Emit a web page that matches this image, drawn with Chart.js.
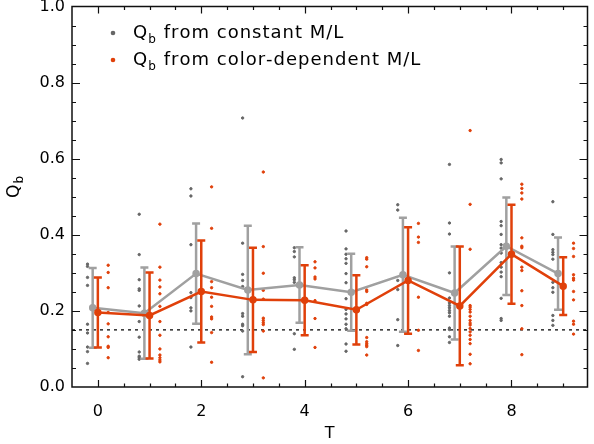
<!DOCTYPE html>
<html><head><meta charset="utf-8">
<script src="https://cdn.jsdelivr.net/npm/chart.js@4.4.1/dist/chart.umd.min.js"></script>
<style>html,body{margin:0;padding:0;background:#fff;}#wrap{width:594px;height:444px;position:relative;}</style>
</head><body><div id="wrap"><canvas id="c" width="594" height="444"></canvas></div>
<script>
// ---- data ----
const T = [0, 1, 2, 3, 4, 5, 6, 7, 8, 9];
const xTickLabels = [0, 2, 4, 6, 8];
const yTickLabels = [0.0, 0.2, 0.4, 0.6, 0.8, 1.0];
const threshold = 0.15;

const grayMean = [0.208, 0.194, 0.298, 0.255, 0.268, 0.249, 0.295, 0.247, 0.370, 0.298];
const grayErr  = [0.105, 0.120, 0.132, 0.169, 0.099, 0.101, 0.150, 0.122, 0.128, 0.095];
const orangeMean = [0.196, 0.188, 0.251, 0.229, 0.228, 0.203, 0.280, 0.213, 0.349, 0.265];
const orangeErr  = [0.092, 0.113, 0.134, 0.137, 0.092, 0.091, 0.140, 0.156, 0.130, 0.076];

const grayPoints = [
  [0.323, 0.317, 0.288, 0.267, 0.165, 0.142, 0.105, 0.093, 0.062],
  [0.454, 0.348, 0.282, 0.258, 0.254, 0.213, 0.172, 0.131, 0.092, 0.081, 0.077, 0.073],
  [0.521, 0.502, 0.374, 0.248, 0.235, 0.208, 0.200, 0.105],
  [0.707, 0.378, 0.296, 0.280, 0.264, 0.193, 0.186, 0.165, 0.161, 0.147, 0.027],
  [0.366, 0.356, 0.342, 0.287, 0.282, 0.275, 0.140, 0.099],
  [0.410, 0.363, 0.349, 0.337, 0.325, 0.298, 0.274, 0.232, 0.204, 0.192, 0.179, 0.165, 0.153, 0.113, 0.094],
  [0.479, 0.465, 0.280, 0.256, 0.177, 0.109],
  [0.585, 0.431, 0.402, 0.300, 0.234, 0.221, 0.214, 0.208, 0.201, 0.195, 0.186, 0.155, 0.151, 0.132, 0.117],
  [0.598, 0.589, 0.547, 0.435, 0.424, 0.401, 0.374, 0.365, 0.352, 0.327, 0.315, 0.302, 0.290, 0.233, 0.180, 0.175],
  [0.487, 0.401, 0.361, 0.354, 0.348, 0.336, 0.275, 0.261, 0.249, 0.188, 0.175, 0.162]
];
const orangePoints = [
  [0.320, 0.301, 0.261, 0.196, 0.166, 0.132, 0.107, 0.104, 0.077],
  [0.428, 0.315, 0.281, 0.263, 0.245, 0.212, 0.172, 0.136, 0.100, 0.084, 0.077, 0.071, 0.066],
  [0.526, 0.417, 0.277, 0.261, 0.236, 0.212, 0.184, 0.179, 0.143, 0.065],
  [0.565, 0.369, 0.299, 0.254, 0.231, 0.181, 0.175, 0.169, 0.164, 0.147, 0.024],
  [0.329, 0.313, 0.289, 0.284, 0.227, 0.180, 0.104],
  [0.340, 0.336, 0.316, 0.255, 0.251, 0.220, 0.217, 0.130, 0.119, 0.114, 0.110, 0.106, 0.084],
  [0.430, 0.394, 0.380, 0.236, 0.149, 0.096],
  [0.674, 0.480, 0.362, 0.214, 0.210, 0.204, 0.197, 0.186, 0.175, 0.168, 0.163, 0.154, 0.145, 0.136, 0.125, 0.114, 0.086, 0.061],
  [0.533, 0.522, 0.510, 0.494, 0.392, 0.370, 0.366, 0.315, 0.306, 0.253, 0.214, 0.153, 0.085],
  [0.378, 0.364, 0.343, 0.295, 0.286, 0.281, 0.251, 0.229, 0.173, 0.165, 0.139]
];

// ---- styles ----
const GRAY_DOT = '#666666', GRAY_LINE = '#a0a0a0', ORANGE = '#e0400a', AXIS = '#101010';
const FONT = '"DejaVu Sans", sans-serif';

const grayScatter = [], orangeScatter = [];
grayPoints.forEach((arr, i) => arr.forEach(v => grayScatter.push({x: T[i] - 0.2, y: v})));
orangePoints.forEach((arr, i) => arr.forEach(v => orangeScatter.push({x: T[i] + 0.2, y: v})));
const grayLine = T.map((t, i) => ({x: t - 0.1, y: grayMean[i]}));
const orangeLine = T.map((t, i) => ({x: t, y: orangeMean[i]}));

const errorBars = {
  id: 'errorBars',
  beforeDatasetDraw(chart, args) {
    const ds = chart.data.datasets[args.index];
    if (!ds.errors) return;
    const xs = chart.scales.x, ys = chart.scales.y, ctx = chart.ctx;
    ctx.save();
    ctx.strokeStyle = ds.borderColor;
    ds.data.forEach((p, i) => {
      const px = xs.getPixelForValue(p.x);
      const top = ys.getPixelForValue(p.y + ds.errors[i]);
      const bot = ys.getPixelForValue(p.y - ds.errors[i]);
      ctx.lineWidth = 2.5;
      ctx.beginPath(); ctx.moveTo(px, top); ctx.lineTo(px, bot); ctx.stroke();
      ctx.beginPath();
      ctx.moveTo(px - 4, top); ctx.lineTo(px + 4, top);
      ctx.moveTo(px - 4, bot); ctx.lineTo(px + 4, bot);
      ctx.stroke();
    });
    ctx.restore();
  }
};

// frame and inward ticks, drawn last so nothing covers them
const frameTicks = {
  id: 'frameTicks',
  afterDraw(chart) {
    const a = chart.chartArea, ctx = chart.ctx;
    const xs = chart.scales.x, ys = chart.scales.y;
    ctx.save();
    ctx.setLineDash([]);
    ctx.globalAlpha = 1;
    ctx.globalCompositeOperation = 'source-over';
    ctx.strokeStyle = AXIS;
    ctx.lineWidth = 1.5;
    ctx.beginPath();
    ctx.moveTo(a.left, a.top); ctx.lineTo(a.right, a.top);
    ctx.lineTo(a.right, a.bottom); ctx.lineTo(a.left, a.bottom);
    ctx.closePath();
    ctx.stroke();
    ctx.lineWidth = 1.2;
    ctx.beginPath();
    for (let k = -1; k <= 19; k++) {
      const v = k * 0.5;
      if (v <= xs.min + 0.01 || v >= xs.max - 0.01) continue;
      const px = Math.round(xs.getPixelForValue(v)) + 0.5;
      const len = (k % 4 === 0) ? 7 : 3.5;
      ctx.moveTo(px, a.bottom); ctx.lineTo(px, a.bottom - len);
      ctx.moveTo(px, a.top); ctx.lineTo(px, a.top + len);
    }
    for (let k = 1; k < 20; k++) {
      const py = Math.round(ys.getPixelForValue(k * 0.05)) + 0.5;
      const len = (k % 4 === 0) ? 8 : 4;
      ctx.moveTo(a.left, py); ctx.lineTo(a.left + len, py);
      ctx.moveTo(a.right, py); ctx.lineTo(a.right - len, py);
    }
    ctx.stroke();
    ctx.restore();
  }
};

function drawQb(ctx, x, y, size) {
  ctx.font = size + 'px ' + FONT;
  ctx.fillText('Q', x, y);
  const w = ctx.measureText('Q').width;
  ctx.font = Math.round(size * 0.68) + 'px ' + FONT;
  ctx.fillText('b', x + w + 1, y + size * 0.25);
  return w + 1 + ctx.measureText('b').width;
}

const annotations = {
  id: 'annotations',
  afterDraw(chart) {
    const ctx = chart.ctx;
    ctx.save();
    ctx.fillStyle = '#000';
    ctx.textBaseline = 'alphabetic';
    ctx.textAlign = 'left';
    const items = [
      {color: GRAY_DOT, text: 'from constant M/L', y: 38},
      {color: ORANGE, text: 'from color-dependent M/L', y: 65}
    ];
    items.forEach(it => {
      ctx.fillStyle = it.color;
      ctx.beginPath(); ctx.arc(113, it.y - 5, 2.3, 0, Math.PI * 2); ctx.fill();
      ctx.fillStyle = '#000';
      const w = drawQb(ctx, 133, it.y, 18);
      ctx.font = '18px ' + FONT;
      // manual letter spacing of 1px
      let cx = 133 + w + 2 + 6;
      for (const ch of it.text) { ctx.fillText(ch, cx, it.y); cx += ctx.measureText(ch).width + 1; }
    });
    ctx.translate(19, 198);
    ctx.rotate(-Math.PI / 2);
    drawQb(ctx, 0, 0, 17);
    ctx.restore();
  }
};

function zeroPad(s) { s.paddingTop = 0; s.paddingBottom = 0; s.paddingLeft = 0; s.paddingRight = 0; }

new Chart(document.getElementById('c'), {
  type: 'scatter',
  data: {
    datasets: [
      {label: 'threshold', data: [{x: -0.5, y: threshold}, {x: 9.47, y: threshold}], showLine: true,
        borderColor: '#000', borderWidth: 1.2, borderDash: [3, 4], pointRadius: 0, order: 10},
      {label: 'Qb constant pts', data: grayScatter, backgroundColor: GRAY_DOT, borderColor: GRAY_DOT,
        borderWidth: 1, pointRadius: 1.2, order: 9},
      {label: 'Qb color pts', data: orangeScatter, backgroundColor: ORANGE, borderColor: ORANGE,
        borderWidth: 1, pointRadius: 1.2, order: 8},
      {label: 'Qb from constant M/L', data: grayLine, showLine: true, borderColor: GRAY_LINE,
        backgroundColor: GRAY_LINE, borderWidth: 2.5, pointRadius: 2.5, errors: grayErr, order: 7},
      {label: 'Qb from color-dependent M/L', data: orangeLine, showLine: true, borderColor: ORANGE,
        backgroundColor: ORANGE, borderWidth: 2.5, pointRadius: 2.5, errors: orangeErr, order: 6}
    ]
  },
  options: {
    responsive: false,
    animation: false,
    devicePixelRatio: 1,
    layout: {padding: {top: 5, right: 1, left: 0, bottom: 0}},
    plugins: {legend: {display: false}, tooltip: {enabled: false}},
    scales: {
      x: {
        type: 'linear', position: 'bottom', min: -0.5, max: 9.47,
        afterFit(s) { s.height = 57; zeroPad(s); },
        afterBuildTicks(s) { s.ticks = xTickLabels.map(v => ({value: v})); },
        grid: {display: false, drawTicks: false},
        border: {display: false},
        ticks: {color: '#000', font: {family: FONT, size: 16}, padding: 15, maxRotation: 0,
          callback: v => String(v)},
        title: {display: true, text: 'T', color: '#000', font: {family: FONT, size: 16},
          padding: {top: 0, bottom: 1}}
      },
      y: {
        type: 'linear', position: 'left', min: 0, max: 1,
        afterFit(s) { s.width = 72; zeroPad(s); },
        afterBuildTicks(s) { s.ticks = yTickLabels.map(v => ({value: v})); },
        grid: {display: false, drawTicks: false},
        border: {display: false},
        ticks: {color: '#000', font: {family: FONT, size: 16}, padding: 7,
          callback: v => Number(v).toFixed(1)}
      }
    }
  },
  plugins: [errorBars, annotations, frameTicks]
});
</script></body></html>
